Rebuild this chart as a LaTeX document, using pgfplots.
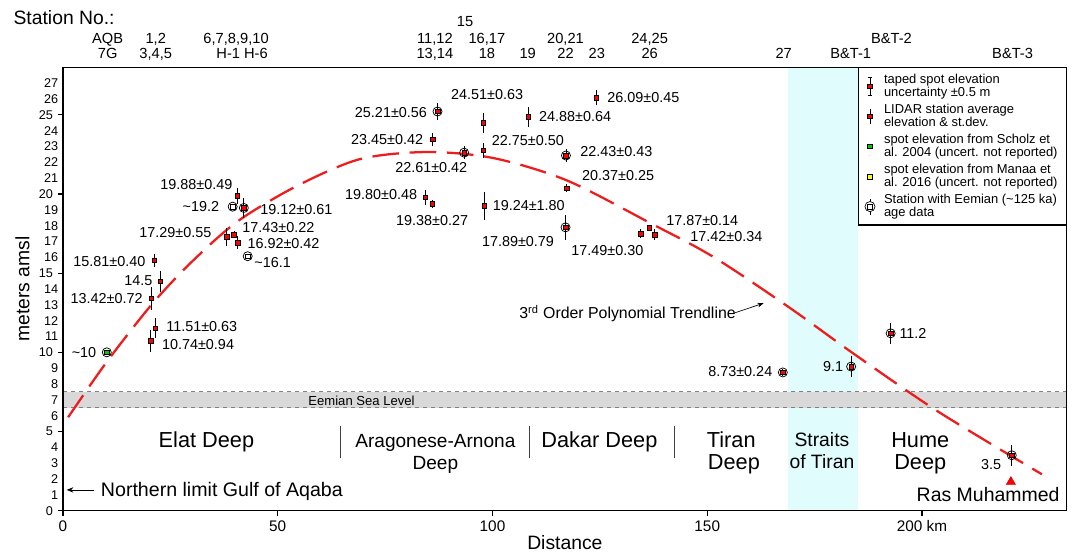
\documentclass[border=0pt]{standalone}
\usepackage{fontspec}
\setmainfont{Liberation Sans}
\usepackage{pgfplots}
\pgfplotsset{compat=1.18}
\usetikzlibrary{arrows.meta}
\newcommand{\fsz}[2]{\fontsize{#1}{#2}\selectfont}
\definecolor{mred}{RGB}{255,0,0}
\definecolor{tred}{RGB}{240,28,28}
\definecolor{mgreen}{RGB}{0,204,0}
\definecolor{myellow}{RGB}{255,255,0}
\definecolor{bandcyan}{RGB}{224,252,252}
\definecolor{bandgrey}{RGB}{217,217,217}
\begin{document}
\begin{tikzpicture}[
  vl/.style={inner sep=0pt, font=\fsz{10.8}{12}},
  tl/.style={inner sep=0pt, anchor=base, font=\fsz{11}{12}},
  dl/.style={inner sep=0pt, anchor=base, font=\fsz{16.3}{17}},
  dls/.style={inner sep=0pt, anchor=base, font=\fsz{14.3}{15}}]
\begin{axis}[
  at={(0,0)}, anchor=south west,
  scale only axis, width=752.8pt, height=332.5pt,
  xmin=0, xmax=233.7, ymin=0, ymax=28,
  clip=false, axis on top,
  axis line style={line width=0.8pt, black},
  tick style={line width=0.8pt, black},
  tick align=outside, major tick length=4pt,
  xtick pos=bottom, ytick pos=left,
  xtick={0,50,100,150,200}, xticklabels={0,50,100,150,200 km},
  ytick={0,5,...,25},
  extra y ticks={1,2,3,4,6,7,8,9,11,12,13,14,16,17,18,19,21,22,23,24,26,27},
  extra y tick style={major tick length=0pt},
  /pgf/number format/assume math mode=true,
  x tick label style={font=\fsz{11.5}{13}},
  y tick label style={font=\fsz{9.5}{11}},
  every axis x label/.style={at={(axis description cs:0.5,-0.0887)}, anchor=base},
  every axis y label/.style={at={(axis description cs:-0.0404,0.5)}, rotate=90, anchor=center},
  xlabel={Distance}, ylabel={meters amsl},
  label style={font=\fsz{14.5}{16}},
  legend style={at={(1,1)}, anchor=north east, draw=black, line width=0.8pt, fill=white,
    font=\fsz{9.7}{8.4}, cells={align=left, anchor=west, inner ysep=1pt}, row sep=0pt,
    inner xsep=4.5pt, inner ysep=2.5pt, /tikz/column sep=4.5pt},
]
% legend
\addlegendimage{legend image code/.code={
  \draw[black,line width=0.6pt] (0pt,-6.5pt)--(0pt,6.5pt) (-1.8pt,-6.5pt)--(1.8pt,-6.5pt) (-1.8pt,6.5pt)--(1.8pt,6.5pt);
  \draw[black,fill=mred,line width=0.4pt] (-1.7pt,-1.7pt) rectangle (1.7pt,1.7pt);}}
\addlegendentry{taped spot elevation\\uncertainty ±0.5 m}
\addlegendimage{legend image code/.code={
  \draw[black,line width=0.6pt] (0pt,-5.5pt)--(0pt,5.5pt);
  \draw[black,fill=mred,line width=0.4pt] (-1.7pt,-1.7pt) rectangle (1.7pt,1.7pt);}}
\addlegendentry{LIDAR station average\\elevation \& st.dev.}
\addlegendimage{legend image code/.code={
  \draw[black,fill=mgreen,line width=0.4pt] (-1.7pt,-1.7pt) rectangle (1.7pt,1.7pt);}}
\addlegendentry{spot elevation from Scholz et\\al. 2004 (uncert. not reported)}
\addlegendimage{legend image code/.code={
  \draw[black,fill=myellow,line width=0.4pt] (-1.7pt,-1.7pt) rectangle (1.7pt,1.7pt);}}
\addlegendentry{spot elevation from Manaa et\\al. 2016 (uncert. not reported)}
\addlegendimage{legend image code/.code={
  \draw[black,line width=0.5pt] (0pt,-6pt)--(0pt,6pt);
  \draw[black,fill=white,line width=0.5pt] (0pt,0pt) circle (3.8pt);
  \draw[black,fill=white,line width=0.5pt] (-1.7pt,-1.7pt) rectangle (1.7pt,1.7pt);}}
\addlegendentry{Station with Eemian (\textasciitilde125 ka)\\age data}

% bands
\addplot[draw=none, fill=bandcyan, forget plot] coordinates {(168.9,0) (185,0) (185,28) (168.9,28)} -- cycle;
\addplot[draw=none, fill=bandgrey, forget plot] coordinates {(0,6.5) (233.7,6.5) (233.7,7.5) (0,7.5)} -- cycle;
\addplot[gray, dashed, line width=0.7pt, forget plot] coordinates {(0,7.5) (233.7,7.5)};
\addplot[gray, dashed, line width=0.7pt, forget plot] coordinates {(0,6.5) (233.7,6.5)};
% basin separators
\addplot[black!75, line width=0.7pt, forget plot] coordinates {(64.6,3.3) (64.6,5.36)};
\addplot[black!75, line width=0.7pt, forget plot] coordinates {(108.5,3.3) (108.5,5.36)};
\addplot[black!75, line width=0.7pt, forget plot] coordinates {(142.3,3.3) (142.3,5.36)};

% trendline
\addplot[tred, line width=1.7pt, dash pattern=on 20pt off 8pt, smooth, forget plot] coordinates {
(1.2,5.9) (10.2,9.4) (20.9,13.1) (30.3,15.8) (40.8,18.3) (54.4,20.5) (69.1,22.2) (84.7,22.65)
(100.2,22.27) (117.3,20.86) (136.7,18.17) (151.4,16.03) (168.9,12.87) (184.0,9.93) (203.8,6.25) (227.9,2.3)};

% Eemian circles
\addplot[only marks, mark=o, mark size=3.4pt, mark options={black, line width=0.55pt}, forget plot] coordinates {
(10.2,10) (39.5,19.2) (42.1,19.12) (43.0,16.07) (87.2,25.21) (93.4,22.61) (117.1,22.43) (117.0,17.89)
(167.6,8.73) (183.5,9.1) (192.7,11.2) (220.9,3.5)};

% LIDAR
\addplot[forget plot, only marks, mark=square*, mark size=1.7pt, mark options={fill=mred, draw=black, line width=0.4pt},
  error bars/.cd, y dir=both, y explicit, error mark=none, error bar style={black, line width=0.6pt}]
  table[x=x, y=y, y error=e] {
x y e
40.6 19.88 0.49
42.1 19.12 0.61
38.1 17.29 0.55
39.8 17.43 0.22
40.7 16.92 0.42
21.3 15.81 0.40
20.6 13.42 0.72
21.5 11.51 0.63
20.4 10.74 0.70
87.2 25.21 0.56
86.1 23.45 0.42
93.4 22.61 0.42
97.9 24.51 0.63
97.9 22.75 0.50
108.3 24.88 0.64
124.2 26.09 0.45
117.1 22.43 0.43
117.3 20.37 0.25
84.4 19.80 0.48
86.0 19.38 0.27
98.1 19.24 0.87
117.0 17.89 0.79
134.5 17.49 0.30
136.5 17.87 0.14
137.8 17.42 0.34
167.6 8.73 0.24
};

% taped
\addplot[forget plot, only marks, mark=square*, mark size=1.7pt, mark options={fill=mred, draw=black, line width=0.4pt},
  error bars/.cd, y dir=both, y explicit, error mark=-, error mark options={black, line width=0.6pt, mark size=1.9pt},
  error bar style={black, line width=0.6pt}]
  table[x=x, y=y, y error=e] {
x y e
22.7 14.5 0.5
183.5 9.1 0.5
192.7 11.2 0.5
220.9 3.5 0.5
};

% Scholz (green)
\addplot[only marks, mark=square*, mark size=1.7pt, mark options={fill=mgreen, draw=black, line width=0.4pt}, forget plot]
  coordinates {(10.2,10)};
% other spot elevations
\addplot[only marks, mark=square*, mark size=1.7pt, mark options={fill=white, draw=black, line width=0.4pt}, forget plot]
  coordinates {(39.5,19.2) (43.0,16.07)};
% Ras Muhammed
\addplot[only marks, mark=triangle*, mark size=4pt, mark options={fill=mred, draw=mred!75!black, line width=0.3pt}, forget plot]
  coordinates {(220.7,1.82)};

% value labels
\node[vl, anchor=east] at (axis cs:39.5,20.6) {19.88±0.49};
\node[vl, anchor=east] at (axis cs:36.4,19.18) {\textasciitilde19.2};
\node[vl, anchor=east] at (axis cs:34.6,17.56) {17.29±0.55};
\node[vl, anchor=east] at (axis cs:19.25,15.75) {15.81±0.40};
\node[vl, anchor=east] at (axis cs:20.9,14.51) {14.5};
\node[vl, anchor=east] at (axis cs:18.6,13.38) {13.42±0.72};
\node[vl, anchor=east] at (axis cs:7.8,9.99) {\textasciitilde10};
\node[vl, anchor=east] at (axis cs:84.8,25.17) {25.21±0.56};
\node[vl, anchor=east] at (axis cs:83.9,23.47) {23.45±0.42};
\node[vl, anchor=east] at (axis cs:82.5,19.96) {19.80±0.48};
\node[vl, anchor=east] at (axis cs:165.2,8.77) {8.73±0.24};
\node[vl, anchor=east] at (axis cs:181.7,9.08) {9.1};
\node[vl, anchor=east] at (axis cs:218.5,2.93) {3.5};
\node[vl, anchor=west] at (axis cs:45.9,19.0) {19.12±0.61};
\node[vl, anchor=west] at (axis cs:41.7,17.86) {17.43±0.22};
\node[vl, anchor=west] at (axis cs:42.9,16.87) {16.92±0.42};
\node[vl, anchor=west] at (axis cs:44.5,15.69) {\textasciitilde16.1};
\node[vl, anchor=west] at (axis cs:24.0,11.61) {11.51±0.63};
\node[vl, anchor=west] at (axis cs:23.0,10.5) {10.74±0.94};
\node[vl, anchor=west] at (axis cs:90.3,26.27) {24.51±0.63};
\node[vl, anchor=west] at (axis cs:99.8,23.39) {22.75±0.50};
\node[vl, anchor=west] at (axis cs:110.8,24.86) {24.88±0.64};
\node[vl, anchor=west] at (axis cs:126.7,26.12) {26.09±0.45};
\node[vl, anchor=west] at (axis cs:77.3,21.7) {22.61±0.42};
\node[vl, anchor=west] at (axis cs:120.4,22.65) {22.43±0.43};
\node[vl, anchor=west] at (axis cs:120.8,21.18) {20.37±0.25};
\node[vl, anchor=west] at (axis cs:77.5,18.3) {19.38±0.27};
\node[vl, anchor=west] at (axis cs:100.0,19.24) {19.24±1.80};
\node[vl, anchor=west] at (axis cs:97.5,17.0) {17.89±0.79};
\node[vl, anchor=west] at (axis cs:118.3,16.45) {17.49±0.30};
\node[vl, anchor=west] at (axis cs:140.4,18.3) {17.87±0.14};
\node[vl, anchor=west] at (axis cs:146.0,17.29) {17.42±0.34};
\node[vl, anchor=west] at (axis cs:194.7,11.19) {11.2};

% annotations
\node[inner sep=0pt, anchor=west, font=\fsz{11.9}{13}] at (axis cs:106.2,12.45) {3\textsuperscript{rd} Order Polynomial Trendline};
\draw[-{Stealth[length=4.5pt,width=3.5pt]}, line width=0.5pt] (axis cs:156.5,12.5) -- (axis cs:163.1,13.1);
\node[inner sep=0pt, anchor=base, font=\fsz{9.8}{11}] at (axis cs:69.5,6.67) {Eemian Sea Level};
\node[inner sep=0pt, anchor=base west, font=\fsz{14.7}{16}] at (axis cs:8.78,0.88) {Northern limit Gulf of Aqaba};
\draw[-{Stealth[length=5pt,width=4pt]}, line width=0.6pt] (axis cs:7.3,1.31) -- (axis cs:0.86,1.31);
\node[inner sep=0pt, anchor=base, font=\fsz{14.6}{16}] at (axis cs:215.4,0.61) {Ras Muhammed};

% basin names
\node[dl] at (axis cs:33.4,3.98) {Elat Deep};
\node[dls] at (axis cs:86.7,3.98) {Aragonese-Arnona};
\node[dls] at (axis cs:86.7,2.63) {Deep};
\node[dl] at (axis cs:124.9,3.98) {Dakar Deep};
\node[dl] at (axis cs:155.6,3.98) {Tiran};
\node[dl] at (axis cs:156.2,2.63) {Deep};
\node[inner sep=0pt, anchor=base, font=\fsz{14.5}{15}] at (axis cs:176.7,4.04) {Straits};
\node[inner sep=0pt, anchor=base, font=\fsz{14.5}{15}] at (axis cs:176.7,2.67) {of Tiran};
\node[dl] at (axis cs:199.6,3.98) {Hume};
\node[dl] at (axis cs:199.6,2.63) {Deep};

% station numbers
\node[inner sep=0pt, anchor=base west, font=\fsz{14.5}{16}] at (axis cs:-11.57,30.73) {Station No.:};
\node[tl] at (axis cs:10.4,29.51) {AQB};
\node[tl] at (axis cs:10.4,28.54) {7G};
\node[tl] at (axis cs:21.6,29.51) {1,2};
\node[tl] at (axis cs:21.6,28.54) {3,4,5};
\node[tl] at (axis cs:40.3,29.51) {6,7,8,9,10};
\node[tl] at (axis cs:41.7,28.54) {H-1 H-6};
\node[tl] at (axis cs:93.6,30.56) {15};
\node[tl] at (axis cs:86.6,29.51) {11,12};
\node[tl] at (axis cs:86.6,28.54) {13,14};
\node[tl] at (axis cs:98.7,29.51) {16,17};
\node[tl] at (axis cs:98.7,28.54) {18};
\node[tl] at (axis cs:108.2,28.54) {19};
\node[tl] at (axis cs:117.0,29.51) {20,21};
\node[tl] at (axis cs:117.0,28.54) {22};
\node[tl] at (axis cs:124.3,28.54) {23};
\node[tl] at (axis cs:136.6,29.51) {24,25};
\node[tl] at (axis cs:136.6,28.54) {26};
\node[tl] at (axis cs:167.8,28.54) {27};
\node[tl] at (axis cs:183.4,28.54) {B\&T-1};
\node[tl] at (axis cs:192.9,29.51) {B\&T-2};
\node[tl] at (axis cs:221.1,28.54) {B\&T-3};
\end{axis}
\pgfresetboundingbox
\useasboundingbox (-47.25pt,-31pt) rectangle (756.75pt,383pt);
\end{tikzpicture}
\end{document}
